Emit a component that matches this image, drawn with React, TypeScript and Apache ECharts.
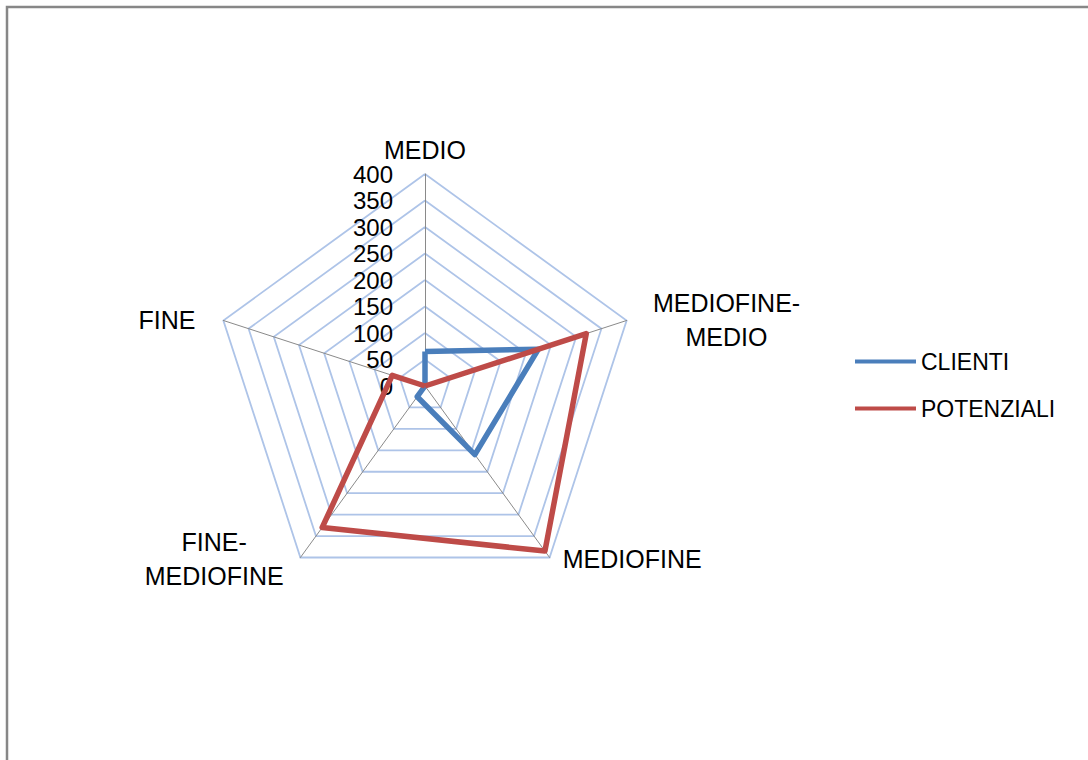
import React, { useEffect, useRef } from "react";
import * as echarts from "echarts";

// Radar axes, clockwise from the top
const categories = ["MEDIO", "MEDIOFINE-MEDIO", "MEDIOFINE", "FINE-MEDIOFINE", "FINE"];
const seriesNames = ["CLIENTI", "POTENZIALI"];
const clienti = [65, 225, 160, 25, 0];
const potenziali = [0, 320, 385, 330, 65];
const axisMin = 0;
const axisMax = 400;
const axisSteps = 8; // ticks every 50

const seriesColors = ["#4a7ebb", "#be4b48"];
const fontFamily = "'Liberation Sans', Arial, sans-serif";

// ECharts lays radar indicators out counter-clockwise, so walk the axes
// backwards after the first one to get a clockwise layout.
const order = categories.map((_, i) => (i === 0 ? 0 : categories.length - i));
const inOrder = <T,>(arr: T[]) => order.map((i) => arr[i]);

// per-axis label style key, used to nudge each name next to its vertex
const nameStyleKey: Record<string, string> = {
  MEDIO: "top",
  "MEDIOFINE-MEDIO": "ur",
  MEDIOFINE: "lr",
  "FINE-MEDIOFINE": "ll",
  FINE: "ul",
};

const formatName = (name: string) => {
  const key = nameStyleKey[name] || "top";
  const lines = name.includes("-") ? name.replace("-", "-\n").split("\n") : [name];
  return lines.map((l) => `{${key}|${l}}`).join("\n");
};

const baseText = { fontSize: 25, color: "#000", fontFamily, lineHeight: 34 };

export default function App() {
  const ref = useRef<HTMLDivElement>(null);

  useEffect(() => {
    if (!ref.current) return;
    const chart = echarts.init(ref.current, undefined, { renderer: "svg" });

    chart.setOption({
      animation: false,
      backgroundColor: "#fff",
      textStyle: { fontFamily },
      graphic: [
        {
          type: "rect",
          silent: true,
          z: -10,
          shape: { x: 7, y: 7, width: 1300, height: 1000 },
          style: { fill: "none", stroke: "#878787", lineWidth: 2.5 },
        },
      ],
      legend: {
        orient: "vertical",
        left: 850,
        top: 345,
        icon: "rect",
        itemWidth: 61,
        itemHeight: 4,
        itemGap: 24,
        data: seriesNames,
        textStyle: { fontSize: 23, color: "#000", fontFamily },
      },
      radar: {
        center: [425, 386],
        radius: 212,
        startAngle: 90,
        shape: "polygon",
        splitNumber: axisSteps,
        nameGap: 2,
        indicator: inOrder(categories).map((name, i) => ({
          name,
          min: axisMin,
          max: axisMax,
          ...(i === 0 ? { axisLabel: { show: true } } : {}),
        })),
        axisName: {
          ...baseText,
          formatter: (value: string) => formatName(value),
          rich: {
            top: { ...baseText, lineHeight: 16 },
            ur: { ...baseText, width: 148, align: "center", padding: [0, 0, 0, 24] },
            lr: { ...baseText, padding: [0, 0, 0, 12] },
            ll: { ...baseText, width: 146, align: "center", padding: [0, 12, 0, 0] },
            ul: { ...baseText, padding: [0, 26, 0, 0] },
          },
        },
        axisLine: { show: true, lineStyle: { color: "#8a8a8a", width: 1 } },
        axisTick: { show: false },
        splitLine: { lineStyle: { color: "#aec4e8", width: 1.8 } },
        splitArea: { show: false },
        axisLabel: {
          show: false,
          fontSize: 24,
          lineHeight: 24,
          color: "#000",
          fontFamily,
          margin: 32,
        },
      },
      series: [
        {
          type: "radar",
          symbol: "none",
          data: [
            {
              name: seriesNames[0],
              value: inOrder(clienti),
              itemStyle: { color: seriesColors[0] },
              lineStyle: { color: seriesColors[0], width: 5.5 },
            },
            {
              name: seriesNames[1],
              value: inOrder(potenziali),
              itemStyle: { color: seriesColors[1] },
              lineStyle: { color: seriesColors[1], width: 5.5 },
            },
          ],
        },
      ],
    });

    return () => chart.dispose();
  }, []);

  return (
    <div
      ref={ref}
      style={{ position: "fixed", left: 0, top: 0, width: 1088, height: 760 }}
    />
  );
}
